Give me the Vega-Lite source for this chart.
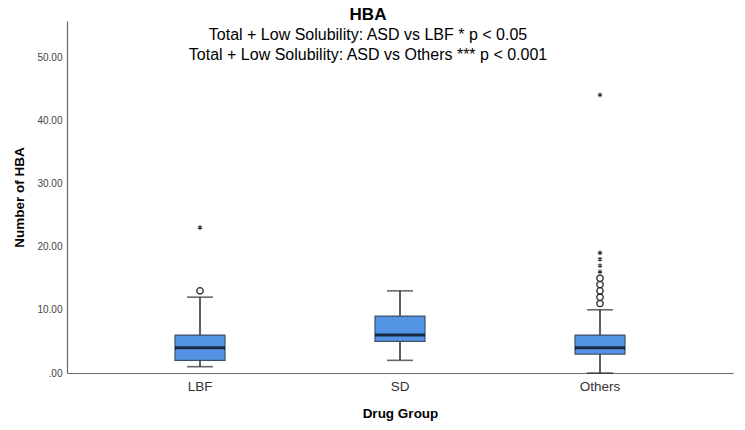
{
  "$schema": "https://vega.github.io/schema/vega-lite/v6.json",
  "width": 666,
  "height": 352,
  "autosize": {"type": "none"},
  "padding": {"left": 67, "top": 21, "right": 12, "bottom": 57},
  "background": "white",
  "config": {
    "view": {"stroke": null},
    "font": "Liberation Sans"
  },
  "title": {
    "text": "HBA",
    "subtitle": ["Total + Low Solubility: ASD vs LBF * p < 0.05", "Total + Low Solubility: ASD vs Others *** p < 0.001"],
    "font": "Liberation Sans",
    "fontSize": 17,
    "fontWeight": "bold",
    "color": "#000000",
    "subtitleFont": "Liberation Sans",
    "subtitleFontSize": 16,
    "subtitleColor": "#000000",
    "subtitleLineHeight": 20,
    "subtitlePadding": 3,
    "anchor": "middle",
    "frame": "group",
    "dx": -32,
    "offset": -43
  },
  "datasets": {
    "boxes": [
      {"group": "LBF", "lower": 1, "q1": 2, "median": 4, "q3": 6, "upper": 12},
      {"group": "SD", "lower": 2, "q1": 5, "median": 6, "q3": 9, "upper": 13},
      {"group": "Others", "lower": 0, "q1": 3, "median": 4, "q3": 6, "upper": 10}
    ],
    "outliers": [
      {"group": "LBF", "value": 13, "kind": "outlier"},
      {"group": "LBF", "value": 23, "kind": "extreme"},
      {"group": "Others", "value": 11, "kind": "outlier"},
      {"group": "Others", "value": 12, "kind": "outlier"},
      {"group": "Others", "value": 13, "kind": "outlier"},
      {"group": "Others", "value": 14, "kind": "outlier"},
      {"group": "Others", "value": 15, "kind": "outlier"},
      {"group": "Others", "value": 16, "kind": "extreme"},
      {"group": "Others", "value": 17, "kind": "extreme"},
      {"group": "Others", "value": 18, "kind": "extreme"},
      {"group": "Others", "value": 19, "kind": "extreme"},
      {"group": "Others", "value": 44, "kind": "extreme"}
    ]
  },
  "encoding": {
    "x": {
      "field": "group",
      "type": "nominal",
      "scale": {"type": "band", "domain": ["LBF", "SD", "Others"], "paddingInner": 0, "paddingOuter": 0.165},
      "axis": {
        "title": "Drug Group",
        "titleFontSize": 13.5,
        "titleFontWeight": "bold",
        "titleColor": "#000000",
        "titlePadding": 14,
        "labelFontSize": 13.5,
        "labelColor": "#333333",
        "labelPadding": 6,
        "labelAngle": 0,
        "ticks": false,
        "domainColor": "#666666",
        "domainWidth": 1.2
      }
    }
  },
  "layer": [
    {
      "data": {"name": "boxes"},
      "mark": {"type": "rule", "color": "#2a2a2a", "strokeWidth": 1.5},
      "encoding": {
        "y": {
          "field": "lower",
          "type": "quantitative",
          "scale": {"domain": [0, 55.7], "nice": false, "zero": true},
          "axis": {
            "title": "Number of HBA",
            "titleFontSize": 13.5,
            "titleFontWeight": "bold",
            "titleColor": "#000000",
            "titlePadding": 10,
            "values": [0, 10, 20, 30, 40, 50],
            "labelExpr": "datum.value == 0 ? '.00' : format(datum.value, '.2f')",
            "labelFontSize": 10,
            "labelColor": "#444444",
            "labelPadding": 5,
            "ticks": false,
            "grid": false,
            "domainColor": "#666666",
            "domainWidth": 1.2
          }
        },
        "y2": {"field": "upper"}
      }
    },
    {
      "data": {"name": "boxes"},
      "mark": {"type": "tick", "color": "#2a2a2a", "thickness": 1.6, "size": 26, "orient": "horizontal"},
      "encoding": {"y": {"field": "lower", "type": "quantitative"}}
    },
    {
      "data": {"name": "boxes"},
      "mark": {"type": "tick", "color": "#2a2a2a", "thickness": 1.6, "size": 26, "orient": "horizontal"},
      "encoding": {"y": {"field": "upper", "type": "quantitative"}}
    },
    {
      "data": {"name": "boxes"},
      "mark": {"type": "bar", "width": 50, "fill": "#5494E5", "stroke": "#3F5066", "strokeWidth": 1.2},
      "encoding": {
        "y": {"field": "q1", "type": "quantitative"},
        "y2": {"field": "q3"}
      }
    },
    {
      "data": {"name": "boxes"},
      "mark": {"type": "tick", "color": "#000000", "thickness": 3, "size": 50, "orient": "horizontal"},
      "encoding": {"y": {"field": "median", "type": "quantitative"}}
    },
    {
      "data": {"name": "outliers"},
      "transform": [{"filter": "datum.kind == 'outlier'"}],
      "mark": {"type": "point", "shape": "circle", "size": 40, "filled": false, "fill": "white", "stroke": "#222222", "strokeWidth": 1.3, "opacity": 1},
      "encoding": {"y": {"field": "value", "type": "quantitative"}}
    },
    {
      "data": {"name": "outliers"},
      "transform": [{"filter": "datum.kind == 'extreme'"}],
      "mark": {"type": "point", "shape": "M0,-1L0,1M-0.87,-0.5L0.87,0.5M-0.87,0.5L0.87,-0.5", "size": 22, "filled": false, "stroke": "#333333", "strokeWidth": 1.1, "opacity": 1},
      "encoding": {"y": {"field": "value", "type": "quantitative"}}
    }
  ]
}
